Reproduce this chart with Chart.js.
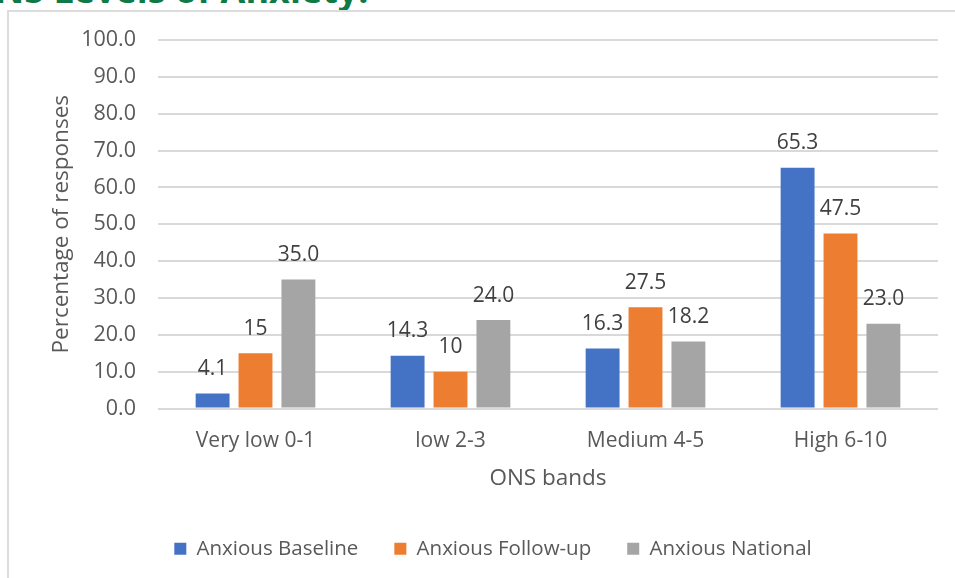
<!DOCTYPE html>
<html>
<head>
<meta charset="utf-8">
<script src="https://cdn.jsdelivr.net/npm/chart.js@4/dist/chart.umd.min.js"></script>
<style>
  html, body { margin: 0; padding: 0; background: #fff; }
  #wrap { position: relative; width: 955px; height: 578px; overflow: hidden; }
  #heading {
    position: absolute; left: -5px; top: -28px;
    font: bold 36px "Open Sans", sans-serif; line-height: 36px;
    color: #0F7A47; white-space: nowrap;
  }
  #frame {
    position: absolute; left: 7px; top: 10px; width: 1000px; height: 700px;
    border-left: 2px solid #DCDCDC; border-top: 2px solid #DCDCDC;
  }
  #chart { position: absolute; left: 0; top: 0; }
</style>
</head>
<body>
<div id="wrap">
  <div id="heading">NS Levels of Anxiety:</div>
  <div id="frame"></div>
  <canvas id="chart" width="955" height="578"></canvas>
</div>
<script>
const categories = ["Very low 0-1", "low 2-3", "Medium 4-5", "High 6-10"];
const anxiousBaseline = [4.1, 14.3, 16.3, 65.3];
const anxiousFollowUp = [15, 10, 27.5, 47.5];
const anxiousNational = [35.0, 24.0, 18.2, 23.0];

const FONT = '"Open Sans", sans-serif';
const TEXT = "#595959";

// labels above each bar (no datalabels plugin available offline)
const barLabels = {
  id: "barLabels",
  afterDatasetsDraw(chart) {
    const ctx = chart.ctx;
    ctx.save();
    ctx.font = `21px ${FONT}`;
    ctx.fillStyle = "#404040";
    ctx.textAlign = "center";
    ctx.textBaseline = "bottom";
    chart.data.datasets.forEach((ds, i) => {
      const meta = chart.getDatasetMeta(i);
      meta.data.forEach((bar, j) => {
        const v = ds.data[j];
        const txt = ds.fixed ? v.toFixed(1) : String(v);
        ctx.fillText(txt, bar.x, bar.y - 14);
      });
    });
    ctx.restore();
  },
};

const config = {
  type: "bar",
  data: {
    labels: categories,
    datasets: [
      { label: "Anxious Baseline", data: anxiousBaseline, backgroundColor: "#4472C4", fixed: true },
      { label: "Anxious Follow-up", data: anxiousFollowUp, backgroundColor: "#ED7D31", fixed: false },
      { label: "Anxious National", data: anxiousNational, backgroundColor: "#A5A5A5", fixed: true },
    ],
  },
  options: {
    responsive: false,
    animation: false,
    categoryPercentage: 0.66,
    barPercentage: 0.79,
    layout: { padding: { left: 48, right: 17, top: 40, bottom: 9 } },
    plugins: {
      tooltip: { enabled: false },
      legend: {
        position: "bottom",
        labels: {
          font: { family: FONT, size: 20.5 },
          color: TEXT,
          boxWidth: 12,
          boxHeight: 12,
          padding: 36,
        },
      },
    },
    scales: {
      x: {
        grid: { display: false },
        border: { display: false },
        ticks: { font: { family: FONT, size: 21 }, color: TEXT, padding: 12 },
        title: {
          display: true,
          text: "ONS bands",
          font: { family: FONT, size: 22.5 },
          color: TEXT,
          padding: { top: 0, bottom: 10 },
        },
        afterFit(scale) { scale.height = 94; },
      },
      y: {
        min: 0,
        max: 100,
        ticks: {
          stepSize: 10,
          font: { family: FONT, size: 21.5 },
          color: TEXT,
          padding: 22,
          callback: (v) => v.toFixed(1),
        },
        grid: { color: "#D9D9D9", lineWidth: 2, drawTicks: false },
        border: { display: false },
        title: {
          display: true,
          text: "Percentage of responses",
          font: { family: FONT, size: 22.5 },
          color: TEXT,
          padding: { top: 0, bottom: 0 },
        },
        afterFit(scale) { scale.width = 110; },
      },
    },
  },
  plugins: [barLabels],
};

const myChart = new Chart(document.getElementById("chart"), config);
</script>
</body>
</html>
